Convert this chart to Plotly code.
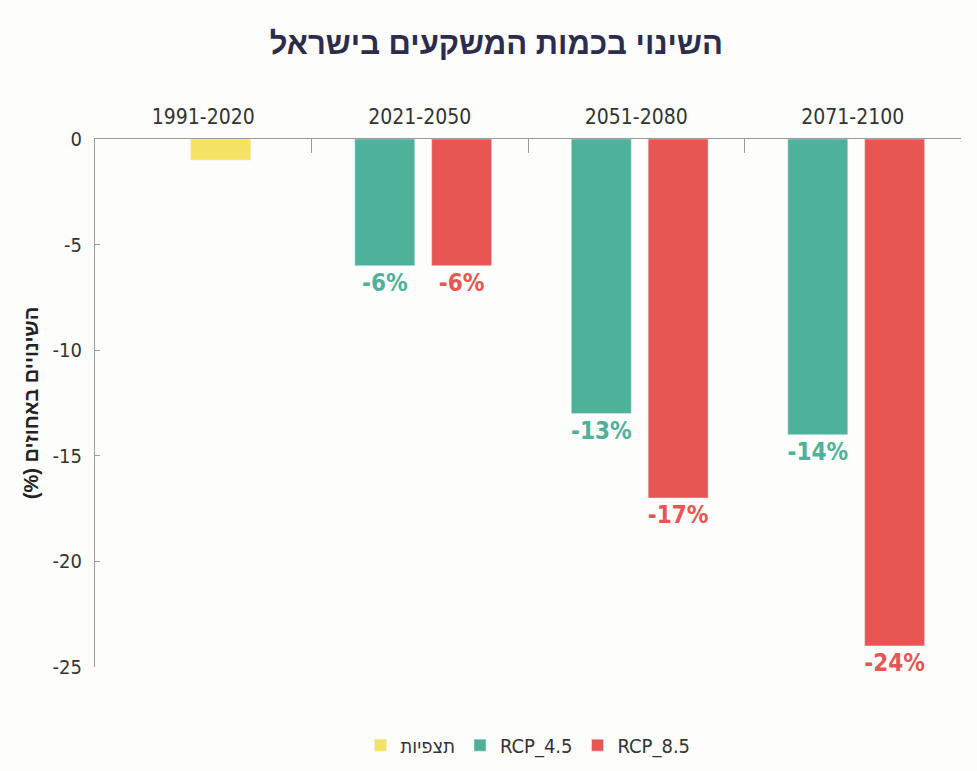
import plotly.graph_objects as go

periods = ["1991-2020", "2021-2050", "2051-2080", "2071-2100"]
observed = [-1, None, None, None]
rcp45 = [None, -6, -13, -14]
rcp85 = [None, -6, -17, -24]
y_ticks = [0, -5, -10, -15, -20, -25]

YELLOW = "#F6E366"
GREEN = "#4EB19A"
RED = "#E85654"
NAVY = "#2E2C4C"
FONT = "DejaVu Sans Condensed, Liberation Sans Narrow, Liberation Sans, sans-serif"

def labels(vals):
    return ["" if v is None else f"{v}%" for v in vals]

fig = go.Figure()
fig.add_trace(go.Bar(
    x=periods, y=observed, name="תצפיות", marker_color=YELLOW,
    width=0.277, offset=-0.058,
))
fig.add_trace(go.Bar(
    x=periods, y=rcp45, name="RCP_4.5", marker_color=GREEN,
    width=0.277, offset=-0.30,
    text=labels(rcp45), textposition="outside", cliponaxis=False,
    textfont=dict(color=GREEN, size=24, family=FONT, weight="bold"),
))
fig.add_trace(go.Bar(
    x=periods, y=rcp85, name="RCP_8.5", marker_color=RED,
    width=0.277, offset=0.055,
    text=labels(rcp85), textposition="outside", cliponaxis=False,
    textfont=dict(color=RED, size=24, family=FONT, weight="bold"),
))

fig.update_layout(
    width=977, height=771,
    barmode="overlay",
    paper_bgcolor="#FDFDFB", plot_bgcolor="#FDFDFB",
    margin=dict(l=95, r=16, t=139, b=104, autoexpand=False),
    font=dict(family=FONT, color="#333333"),
    title=dict(
        text="השינוי בכמות המשקעים בישראל",
        x=0.508, xanchor="center", y=0.944, yanchor="middle",
        font=dict(size=31, color=NAVY, family="Liberation Sans, DejaVu Sans, sans-serif", weight="bold"),
    ),
    showlegend=True,
    legend=dict(
        orientation="h", x=0.5, xanchor="center", y=-0.148, yanchor="middle",
        font=dict(size=20, color="#333333", family=FONT),
        itemwidth=30, traceorder="normal",
    ),
)
fig.update_traces(constraintext="none", selector=dict(type="bar"))

fig.update_xaxes(
    type="category", side="top", showline=True, linecolor="#9a9a9a", linewidth=1,
    ticks="inside", tickson="boundaries", ticklen=14, tickcolor="#9a9a9a",
    tickfont=dict(size=21, color="#333333", family=FONT),
    showgrid=False, zeroline=False, range=[-0.5, 3.5], fixedrange=True,
    automargin=False, ticklabelstandoff=6,
)
fig.update_yaxes(
    range=[-25, 0], tickvals=y_ticks, ticktext=[str(v) for v in y_ticks],
    showline=True, linecolor="#9a9a9a", linewidth=1,
    ticks="inside", ticklen=5, tickcolor="#9a9a9a",
    tickfont=dict(size=20, color="#333333", family=FONT),
    showgrid=False, zeroline=False, ticklabelstandoff=8, automargin=False,
    title=dict(text="(%) השינויים באחוזים", standoff=8,
               font=dict(size=20, color="#222222", family="Liberation Sans, DejaVu Sans, sans-serif", weight="bold")),
)

fig.write_html("out.html", post_script="document.body.style.margin='0px';",
               config={"displayModeBar": False})
